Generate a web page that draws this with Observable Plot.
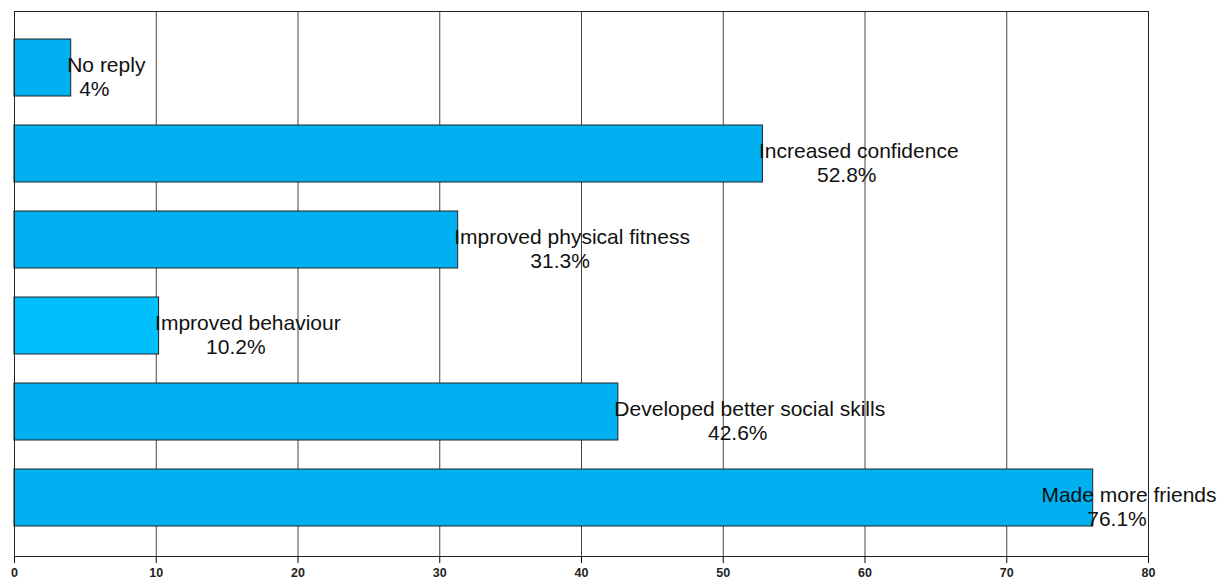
<!DOCTYPE html>
<html>
<head>
<meta charset="utf-8">
<script src="https://cdn.jsdelivr.net/npm/d3@7"></script>
<script src="https://cdn.jsdelivr.net/npm/@observablehq/plot@0.6"></script>
<style>
  html, body { margin: 0; padding: 0; background: #fff; }
  #chart svg { display: block; }
  #chart g[aria-label="x-axis tick label"] text { font-size: 12.5px; font-weight: bold; }
</style>
</head>
<body>
<div id="chart"></div>
<script>
const categories = ["No reply", "Increased confidence", "Improved physical fitness", "Improved behaviour", "Developed better social skills", "Made more friends"];
const values = [4, 52.8, 31.3, 10.2, 42.6, 76.1];
const valueLabels = ["4%", "52.8%", "31.3%", "10.2%", "42.6%", "76.1%"];
const xTicks = [0, 10, 20, 30, 40, 50, 60, 70, 80];

const W = 1229, H = 581;
const mL = 14, mR = 81, mT = 11, mB = 25;
const k = (W - mL - mR) / 80;
const fontPx = 21;
const ctx = document.createElement("canvas").getContext("2d");
ctx.font = `${fontPx}px "Liberation Sans", Arial, sans-serif`;

const data = categories.map((c, i) => {
  const w = ctx.measureText(c).width;
  const barEndPx = mL + values[i] * k;
  const leftPx = Math.min(barEndPx - 4, W - 13 - w);
  const centerPx = leftPx + w / 2 - 12;
  return {
    cat: c,
    value: values[i],
    label: valueLabels[i],
    hi: c === "Improved behaviour",
    lx: (leftPx - mL) / k,
    cx: (centerPx - mL) / k
  };
});

const chart = Plot.plot({
  width: W,
  height: H,
  marginLeft: mL,
  marginRight: mR,
  marginTop: mT,
  marginBottom: mB,
  style: { fontFamily: '"Liberation Sans", Arial, sans-serif', background: "#fff" },
  x: { domain: [0, 80], ticks: xTicks, label: null },
  y: { domain: categories, range: [39, 527], paddingInner: 0.337, paddingOuter: 0, axis: null },
  marks: [
    Plot.ruleX(xTicks, { stroke: "#444", strokeWidth: 1 }),
    Plot.barX(data, {
      x: "value", y: "cat",
      fill: d => d.hi ? "#00BFFF" : "#00B0F0",
      stroke: "#222", strokeWidth: 1
    }),
    Plot.frame({ stroke: "#222", strokeWidth: 1 }),
    Plot.axisX({
      ticks: xTicks, tickSize: 7, tickPadding: 5,
      fontSize: 12.5, fontWeight: "bold", stroke: "#000", fill: "#222", label: null
    }),
    Plot.text(data, {
      x: "lx", y: "cat", text: "cat", textAnchor: "start",
      dy: -3, fontSize: fontPx, fill: "#111"
    }),
    Plot.text(data, {
      x: "cx", y: "cat", text: "label", textAnchor: "middle",
      dy: 21, fontSize: fontPx, fill: "#111"
    })
  ]
});
document.getElementById("chart").appendChild(chart);
</script>
</body>
</html>
